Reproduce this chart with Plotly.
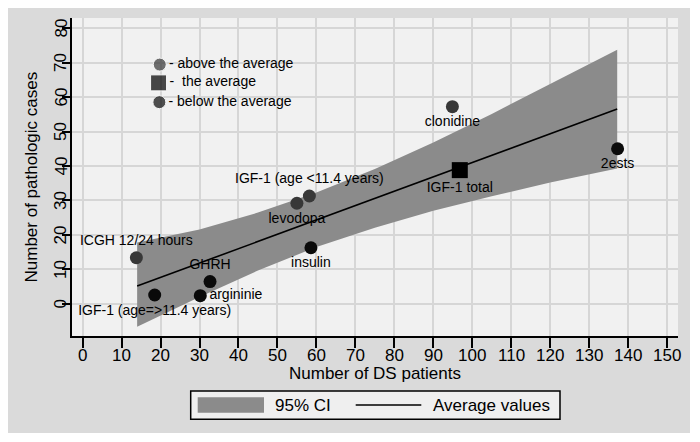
import plotly.graph_objects as go

# ---------------- data ----------------
above_names = ["ICGH 12/24 hours", "levodopa", "IGF-1 (age <11.4 years)", "clonidine"]
above_x = [13.8, 55.0, 58.2, 94.9]
above_y = [13.4, 29.2, 31.3, 57.2]
above_pos = ["top center", "bottom center", "top center", "bottom center"]

below_names = ["IGF-1 (age=>11.4 years)", "argininie", "GHRH", "insulin", "2ests"]
below_x = [18.5, 30.2, 32.7, 58.6, 137.3]
below_y = [2.6, 2.4, 6.5, 16.3, 45.0]
below_pos = ["bottom center", "middle right", "top center", "bottom center", "bottom center"]

avg_names = ["IGF-1 total"]
avg_x = [96.8]
avg_y = [38.8]

fit_x = [14.0, 137.2]
fit_y = [5.2, 56.5]

ci_x = [14.0, 30.0, 45.0, 60.0, 75.0, 90.0, 105.0, 120.0, 137.2]
ci_lower = [-6.6, 2.0, 9.7, 16.5, 22.1, 27.0, 31.2, 35.2, 39.3]
ci_upper = [17.8, 21.6, 26.5, 32.3, 39.1, 46.8, 55.1, 63.7, 73.7]

key_labels = ["- above the average", "-  the average", "- below the average"]
key_x = [19.8, 19.5, 19.7]
key_y = [69.4, 64.1, 58.5]

x_ticks = list(range(0, 151, 10))
y_ticks = list(range(0, 81, 10))

x_title = "Number of DS patients"
y_title = "Number of pathologic cases"

# ---------------- styling ----------------
FONT = "Arial, Liberation Sans, Helvetica, sans-serif"
OFF = 8  # page body margin of the browser
W, H = 682, 425
ML, MR, MT, MB = 64, 12, 10, 97
PW, PH = W - ML - MR, H - MT - MB

def px(x):  # page pixel -> paper x
    return (x - OFF - ML) / PW

def py(y):  # page pixel -> paper y
    return (MT + PH - (y - OFF)) / PH

C_ABOVE = "#383838"
C_BELOW = "#0a0a0a"
C_BAND = "#8b8b8b"

fig = go.Figure()

fig.add_trace(go.Scatter(
    x=ci_x + ci_x[::-1], y=ci_upper + ci_lower[::-1],
    fill="toself", fillcolor=C_BAND, line=dict(width=0),
    mode="lines", hoverinfo="skip", name="95% CI"))

fig.add_trace(go.Scatter(
    x=fit_x, y=fit_y, mode="lines", line=dict(color="black", width=1.6),
    name="Average values"))

fig.add_trace(go.Scatter(
    x=above_x, y=above_y, mode="markers+text", text=above_names,
    textposition=above_pos,
    marker=dict(size=13, color=C_ABOVE),
    textfont=dict(family=FONT, size=14, color="black")))

fig.add_trace(go.Scatter(
    x=below_x, y=below_y, mode="markers+text", text=below_names,
    textposition=below_pos,
    marker=dict(size=13, color=C_BELOW),
    textfont=dict(family=FONT, size=14, color="black")))

fig.add_trace(go.Scatter(
    x=avg_x, y=avg_y, mode="markers+text", text=avg_names,
    textposition="bottom center",
    marker=dict(size=16, color="black", symbol="square"),
    textfont=dict(family=FONT, size=14, color="black")))

fig.add_trace(go.Scatter(
    x=key_x, y=key_y, mode="markers+text", text=key_labels,
    textposition="middle right",
    marker=dict(size=[13, 16, 13], color=[C_ABOVE, "black", C_BELOW],
                symbol=["circle", "square", "circle"]),
    textfont=dict(family=FONT, size=14, color="black")))

axis_common = dict(
    showline=True, linecolor="black", linewidth=1.5,
    ticks="outside", tickcolor="black", tickwidth=1.5,
    showgrid=True, gridcolor="#d6d6d6", gridwidth=1.5,
    zeroline=False, mirror=False, showticklabels=False,
)

fig.update_xaxes(range=[-2.72, 152.8], tickvals=x_ticks, ticklen=10,
                 **axis_common)
fig.update_yaxes(range=[-9.28, 82.9], tickvals=y_ticks, ticklen=8,
                 **axis_common)

shapes = [
    dict(type="rect", xref="paper", yref="paper",
         x0=px(190.7), x1=px(560), y0=py(419.3), y1=py(391),
         line=dict(color="black", width=1.5), fillcolor="#efefef"),
    dict(type="rect", xref="paper", yref="paper",
         x0=px(197.7), x1=px(264), y0=py(412.7), y1=py(397.3),
         line=dict(width=0), fillcolor=C_BAND),
    dict(type="line", xref="paper", yref="paper",
         x0=px(355.7), x1=px(421.3), y0=py(405), y1=py(405),
         line=dict(color="black", width=1.5)),
]

TXT = dict(family=FONT, size=17, color="black")
annotations = [
    dict(text="95% CI", xref="paper", yref="paper", x=px(273), y=py(405),
         xanchor="left", yanchor="middle", showarrow=False, font=TXT),
    dict(text="Average values", xref="paper", yref="paper", x=px(431), y=py(405),
         xanchor="left", yanchor="middle", showarrow=False, font=TXT),
    dict(text=x_title, xref="paper", yref="paper", x=0.5, y=py(373),
         xanchor="center", yanchor="middle", showarrow=False, font=TXT),
    dict(text=y_title, xref="paper", yref="paper", x=px(30.5), y=0.5,
         xanchor="center", yanchor="middle", showarrow=False, textangle=-90,
         font=TXT),
]
# tick labels placed through the axes (y ones rotated, Stata style)
for v in x_ticks:
    annotations.append(dict(
        text=str(v), xref="x", yref="paper", x=v, y=py(355.5),
        xanchor="center", yanchor="middle", showarrow=False, font=TXT))
for v in y_ticks:
    annotations.append(dict(
        text=str(v), xref="paper", yref="y", x=px(60.5), y=v,
        xanchor="center", yanchor="middle", showarrow=False, textangle=-90,
        font=TXT))

fig.update_layout(
    width=W, height=H,
    margin=dict(l=ML, r=MR, t=MT, b=MB, pad=0),
    paper_bgcolor="#dadada", plot_bgcolor="#f1f1f1",
    showlegend=False, shapes=shapes, annotations=annotations,
    font=dict(family=FONT, color="black"),
)

fig.write_html("out.html")
